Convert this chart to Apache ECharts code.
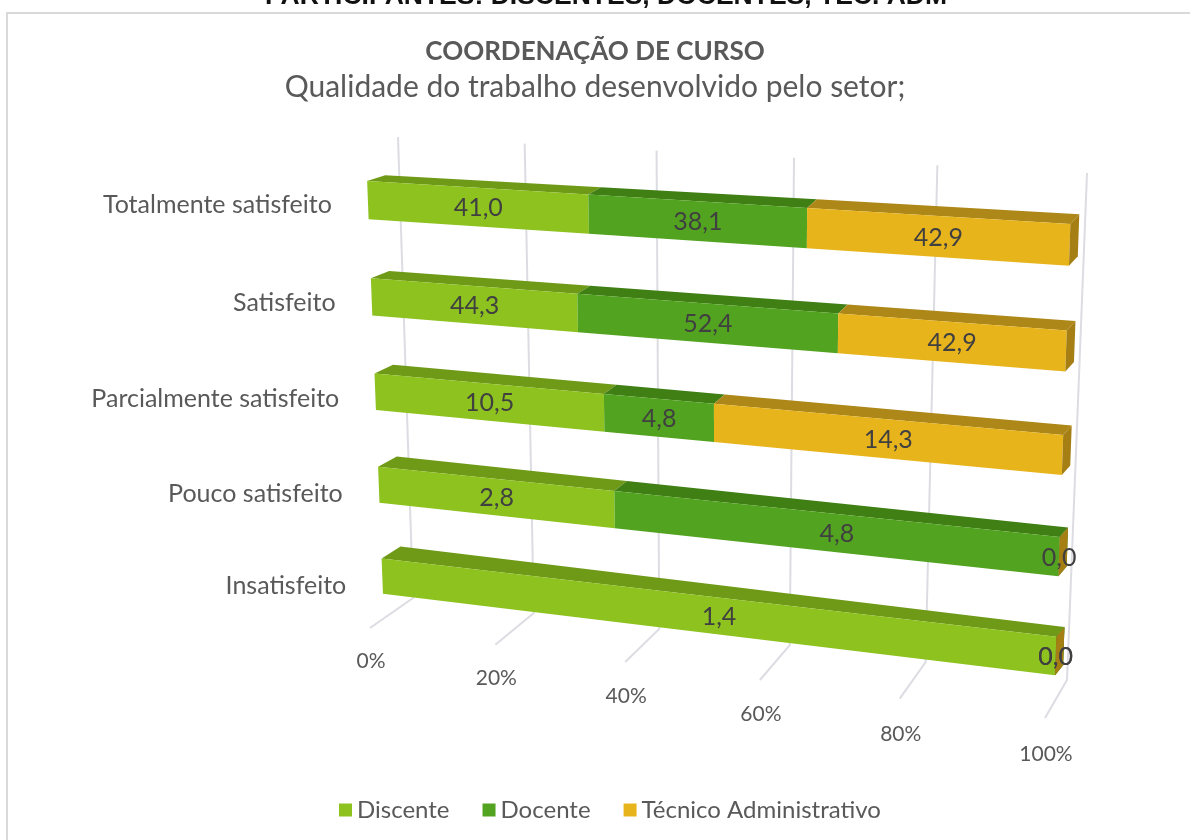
<!DOCTYPE html>
<html><head><meta charset="utf-8">
<style>html,body{margin:0;padding:0;background:#fff}#c{width:1190px;height:840px}</style>
<script src="https://cdn.jsdelivr.net/npm/echarts@6/dist/echarts.min.js"></script>
</head><body><div id="c"></div>
<script>
const categories = ['Totalmente satisfeito','Satisfeito','Parcialmente satisfeito','Pouco satisfeito','Insatisfeito'];
const discente = [41.0,44.3,10.5,2.8,1.4];
const docente  = [38.1,52.4,4.8,4.8,0.0];
const tecnico  = [42.9,42.9,14.3,0.0,0.0];
const ticks = [0,20,40,60,80,100];
const tickLabels = ['0%','20%','40%','60%','80%','100%'];
const FONT = 'Lato';
const GREY = '#595959';

// perspective planes (layout only)
function homography(c){ // c: TL,TR,BR,BL for the unit square
  const [x0,y0]=c[0],[x1,y1]=c[1],[x2,y2]=c[2],[x3,y3]=c[3];
  const dx1=x1-x2,dx2=x3-x2,sx=x0-x1+x2-x3,dy1=y1-y2,dy2=y3-y2,sy=y0-y1+y2-y3;
  const d=dx1*dy2-dx2*dy1;
  const g=(sx*dy2-dx2*sy)/d,h=(dx1*sy-sx*dy1)/d;
  const a=x1-x0+g*x1,b=x3-x0+h*x3,e=y1-y0+g*y1,f=y3-y0+h*y3;
  return (u,v)=>{const w=g*u+h*v+1;return [(a*u+b*v+x0)/w,(e*u+f*v+y0)/w];};
}
const front = homography([[366,151],[1071.5,191],[1054,705],[384,621]]);
const back  = homography([[384,145.5],[1080.5,181],[1062,695],[403,608]]);
const wall  = homography([[398,137],[1087,173],[1067,680],[413,598]]);
const floorFront = homography([[370,628],[1045,718],[1045,752],[370,659]]);
const BAR_FRACTION = 0.39;

const totals = categories.map((_,i)=>discente[i]+docente[i]+tecnico[i]);
function rows(idx){
  return categories.map((_,i)=>{
    const parts=[discente[i],docente[i],tecnico[i]];
    let s=0; for(let k=0;k<idx;k++) s+=parts[k];
    return [s/totals[i]*100,(s+parts[idx])/totals[i]*100,i,parts[idx]];
  });
}
function barRender(front_c,top_c,side_c){
  return function(params,api){
    const cs=params.coordSys;
    const a=api.coord([api.value(0),api.value(2)]), b=api.coord([api.value(1),api.value(2)]);
    const bh=api.size([0,1])[1]*BAR_FRACTION;
    const U=p=>(p-cs.x)/cs.width, V=p=>(p-cs.y)/cs.height;
    const u0=U(a[0]),u1=U(b[0]),vt=V(a[1]-bh/2),vb=V(a[1]+bh/2);
    const ft0=front(u0,vt),ft1=front(u1,vt),fb1=front(u1,vb),fb0=front(u0,vb);
    const bt0=back(u0,vt),bt1=back(u1,vt),bb1=back(u1,vb);
    const val=api.value(3);
    const ch=[];
    if(u1>u0){
      ch.push({type:'polygon',shape:{points:[ft0,bt0,bt1,ft1]},style:{fill:top_c},z2:1});
      ch.push({type:'polygon',shape:{points:[ft0,ft1,fb1,fb0]},style:{fill:front_c},z2:2});
    }
    if(api.value(1)>=99.999){
      ch.push({type:'polygon',shape:{points:[ft1,bt1,bb1,fb1]},style:{fill:side_c},z2:3});
    }
    const cx=(ft0[0]+ft1[0]+fb0[0]+fb1[0])/4, cy=(ft0[1]+ft1[1]+fb0[1]+fb1[1])/4;
    ch.push({type:'text',x:cx,y:cy+1,z2:50,style:{
      text:val.toFixed(1).replace('.',','),fill:'#404040',font:'25px '+FONT,align:'center',verticalAlign:'middle'}});
    return {type:'group',children:ch};
  };
}
function axisRender(params,api){
  const cs=params.coordSys;
  const p=api.coord([api.value(0),0]);
  const u=(p[0]-cs.x)/cs.width;
  const t=wall(u,0),m=wall(u,1),f=floorFront(u,0),l=floorFront(u,1);
  const line={stroke:'#dcdce3',lineWidth:2,fill:null};
  return {type:'group',children:[
    {type:'polyline',shape:{points:[t,m,f]},style:line},
    {type:'text',x:l[0]+1,y:l[1]+2,style:{text:tickLabels[params.dataIndex],fill:GREY,font:'21px '+FONT,align:'center',verticalAlign:'middle'}}
  ]};
}
function catRender(params,api){
  const cs=params.coordSys, i=params.dataIndex;
  const p=api.coord([0,i]);
  const q=front(0,(p[1]-cs.y)/cs.height);
  return {type:'text',x:q[0]-36,y:q[1]+5+i*1.3,style:{text:categories[i],fill:GREY,font:'25px '+FONT,align:'right',verticalAlign:'middle'}};
}
const chart=echarts.init(document.getElementById('c'),null,{renderer:'canvas'});
const series=[
  {type:'custom',silent:true,z:1,coordinateSystem:'cartesian2d',data:ticks.map(t=>[t]),encode:{x:0},renderItem:axisRender,clip:false},
  {type:'custom',silent:true,z:1,coordinateSystem:'cartesian2d',data:categories.map((_,i)=>[0,i]),encode:{x:0,y:1},renderItem:catRender,clip:false},
  {name:'Discente',type:'custom',z:2,coordinateSystem:'cartesian2d',data:rows(0),encode:{x:[0,1],y:2},itemStyle:{color:'#8dc21f'},renderItem:barRender('#8dc21f','#6f9a18','#6f9a18'),clip:false},
  {name:'Docente',type:'custom',z:2,coordinateSystem:'cartesian2d',data:rows(1),encode:{x:[0,1],y:2},itemStyle:{color:'#52a31f'},renderItem:barRender('#52a31f','#3f7f14','#3f7f14'),clip:false},
  {name:'Técnico Administrativo',type:'custom',z:2,coordinateSystem:'cartesian2d',data:rows(2),encode:{x:[0,1],y:2},itemStyle:{color:'#e8b41c'},renderItem:barRender('#e8b41c','#ad8717','#a57f14'),clip:false}
];
chart.setOption({
  animation:false,
  backgroundColor:'#fff',
  title:{text:'COORDENAÇÃO DE CURSO',subtext:'Qualidade do trabalho desenvolvido pelo setor;',left:'center',top:34,itemGap:7,
    textStyle:{fontFamily:FONT,fontSize:26,fontWeight:'bold',color:GREY},
    subtextStyle:{fontFamily:FONT,fontSize:30,fontWeight:'normal',color:GREY}},
  legend:{bottom:13,left:334,icon:'rect',itemWidth:13,itemHeight:13,itemGap:33,
    data:['Discente','Docente','Técnico Administrativo'],
    textStyle:{fontFamily:FONT,fontSize:24,color:GREY}},
  grid:{left:366,top:151,width:705,height:554},
  xAxis:{type:'value',min:0,max:100,interval:20,show:false},
  yAxis:{type:'category',inverse:true,data:categories,show:false},
  graphic:[
    {type:'rect',z:-10,shape:{x:7,y:13,width:1200,height:840},style:{fill:'#fff',stroke:'#d9d9d9',lineWidth:2}},
    {type:'text',z:-5,x:606,y:-3,style:{text:'PARTICIPANTES: DISCENTES, DOCENTES, TÉC. ADM',fill:'#111',font:'bold 26.5px "Liberation Sans"',align:'center',verticalAlign:'middle'}}
  ],
  series
});
</script></body></html>
